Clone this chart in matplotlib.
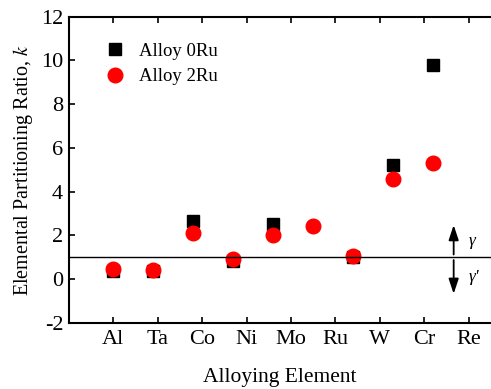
import numpy as np
import matplotlib
matplotlib.use("Agg")
import matplotlib.pyplot as plt

plt.rcParams['font.family'] = ['Liberation Serif', 'DejaVu Serif']
plt.rcParams['mathtext.fontset'] = 'stix'
plt.rcParams['axes.unicode_minus'] = False

# 元素与分配比
elements = ['Al', 'Ta', 'Co', 'Ni', 'Mo', 'Ru', 'W', 'Cr', 'Re']
k_0ru = [0.35, 0.38, 2.66, 0.82, 2.54, np.nan, 0.99, 5.22, 9.78]
k_2ru = [0.46, 0.44, 2.09, 0.92, 2.00, 2.43, 1.08, 4.57, 5.30]
# 数据点的横坐标（与刻度不对齐）
x_pts = [1.0, 1.9, 2.8, 3.7, 4.6, 5.5, 6.4, 7.3, 8.2]
x_ticks = [1, 2, 3, 4, 5, 6, 7, 8, 9]

fig = plt.figure(figsize=(4.91, 3.89), dpi=100)
ax = fig.add_axes([0.14, 0.17, 0.86, 0.787])

ax.plot(x_pts, k_0ru, 's', color='black', markersize=8.5, label='Alloy 0Ru')
ax.plot(x_pts, k_2ru, 'o', color='red', markersize=10.5, label='Alloy 2Ru')

ax.axhline(1, color='black', lw=1)

# γ / γ' 箭头
arrow_kw = dict(arrowstyle='-|>,head_length=0.6,head_width=0.2', color='black',
                lw=1.3, mutation_scale=15)
ax.annotate('', xy=(8.66, 2.6), xytext=(8.66, 1.0), arrowprops=arrow_kw)
ax.annotate('', xy=(8.66, -0.8), xytext=(8.66, 1.0), arrowprops=arrow_kw)
ax.text(9.0, 1.75, 'γ', fontsize=12.5, style='italic', va='center')
ax.text(9.0, 0.1, "γ'", fontsize=12.5, style='italic', va='center')

ax.set_xlim(0, 9.5)
ax.set_ylim(-2, 12)
ax.set_yticks(range(-2, 13, 2))
ax.set_xticks(x_ticks)
ax.set_xticklabels(elements)
ax.tick_params(direction='in', length=4, width=1.2, labelsize=16, top=True)
ax.tick_params(axis='x', pad=5)
ax.tick_params(axis='y', pad=4)
ax.spines['right'].set_visible(False)
for s in ['left', 'bottom', 'top']:
    ax.spines[s].set_linewidth(1.5)

ax.set_xlabel('Alloying Element', fontsize=15.5, labelpad=14)
ax.set_ylabel(r'Elemental Partitioning Ratio, $k$', fontsize=14.5, labelpad=4)

ax.legend(loc='upper left', bbox_to_anchor=(0.025, 0.97), frameon=False,
          fontsize=13.5, handletextpad=0.3, labelspacing=0.45)

fig.savefig('out.png', dpi=100)
